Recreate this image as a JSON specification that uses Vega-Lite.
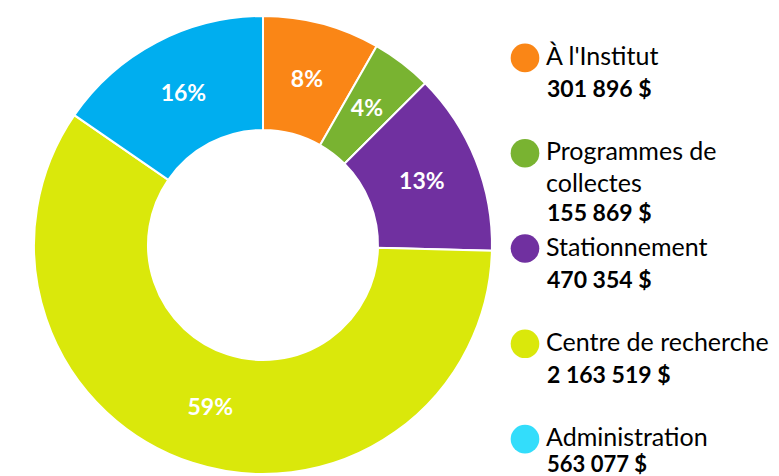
{
  "$schema": "https://vega.github.io/schema/vega-lite/v6.json",
  "padding": {"left": 30, "top": 12, "right": 0, "bottom": 0},
  "autosize": {"type": "pad"},
  "background": "white",
  "config": {"view": {"stroke": null}, "font": "Lato"},
  "datasets": {
    "d": [
      {"k": 1, "cat": "À l'Institut", "label": "À l'Institut", "value": 301896, "amount": "301 896 $", "pct": "8%"},
      {"k": 2, "cat": "Programmes de collectes", "label": "Programmes de\ncollectes", "value": 155869, "amount": "155 869 $", "pct": "4%"},
      {"k": 3, "cat": "Stationnement", "label": "Stationnement", "value": 470354, "amount": "470 354 $", "pct": "13%"},
      {"k": 4, "cat": "Centre de recherche", "label": "Centre de recherche", "value": 2163519, "amount": "2 163 519 $", "pct": "59%"},
      {"k": 5, "cat": "Administration", "label": "Administration", "value": 563077, "amount": "563 077 $", "pct": "16%"}
    ]
  },
  "spacing": 13,
  "resolve": {"scale": {"color": "independent"}},
  "hconcat": [
    {
      "width": 458,
      "height": 458,
      "data": {"name": "d"},
      "encoding": {
        "theta": {"field": "value", "type": "quantitative", "stack": true},
        "order": {"field": "k", "type": "quantitative"}
      },
      "layer": [
        {
          "mark": {"type": "arc", "innerRadius": 115, "outerRadius": 229, "stroke": "white", "strokeWidth": 2},
          "encoding": {
            "color": {
              "field": "cat", "type": "nominal",
              "scale": {
                "domain": ["À l'Institut", "Programmes de collectes", "Stationnement", "Centre de recherche", "Administration"],
                "range": ["#FA8616", "#79B331", "#7030A0", "#DAE80B", "#00AEEF"]
              },
              "legend": null
            }
          }
        },
        {
          "mark": {"type": "text", "radius": 171, "color": "white", "fontWeight": "bold", "fontSize": 23, "align": "center", "baseline": "middle"},
          "encoding": {"text": {"field": "pct", "type": "nominal"}}
        }
      ]
    },
    {
      "width": 32,
      "height": 465,
      "data": {"name": "d"},
      "encoding": {
        "y": {
          "field": "cat", "type": "nominal",
          "sort": ["À l'Institut", "Programmes de collectes", "Stationnement", "Centre de recherche", "Administration"],
          "scale": {"type": "point", "padding": 0.44},
          "axis": null
        }
      },
      "layer": [
        {
          "mark": {"type": "circle", "size": 820, "opacity": 1},
          "encoding": {
            "color": {
              "field": "cat", "type": "nominal",
              "scale": {
                "domain": ["À l'Institut", "Programmes de collectes", "Stationnement", "Centre de recherche", "Administration"],
                "range": ["#FA8616", "#79B331", "#7030A0", "#DAE80B", "#33DDFB"]
              },
              "legend": null
            }
          }
        },
        {
          "mark": {"type": "text", "align": "left", "baseline": "alphabetic", "dx": 21, "dy": 7, "fontSize": 25, "lineBreak": "\n", "lineHeight": 32, "color": "black"},
          "encoding": {"text": {"field": "label", "type": "nominal"}}
        },
        {
          "transform": [{"filter": "datum.k != 2 && datum.k != 5"}],
          "mark": {"type": "text", "align": "left", "baseline": "alphabetic", "dx": 22, "dy": 39, "fontSize": 23, "fontWeight": "bold", "color": "black"},
          "encoding": {"text": {"field": "amount", "type": "nominal"}}
        },
        {
          "transform": [{"filter": "datum.k == 5"}],
          "mark": {"type": "text", "align": "left", "baseline": "alphabetic", "dx": 22, "dy": 33, "fontSize": 22, "fontWeight": "bold", "color": "black"},
          "encoding": {"text": {"field": "amount", "type": "nominal"}}
        },
        {
          "transform": [{"filter": "datum.k == 2"}],
          "mark": {"type": "text", "align": "left", "baseline": "alphabetic", "dx": 22, "dy": 68, "fontSize": 23, "fontWeight": "bold", "color": "black"},
          "encoding": {"text": {"field": "amount", "type": "nominal"}}
        }
      ]
    }
  ]
}
